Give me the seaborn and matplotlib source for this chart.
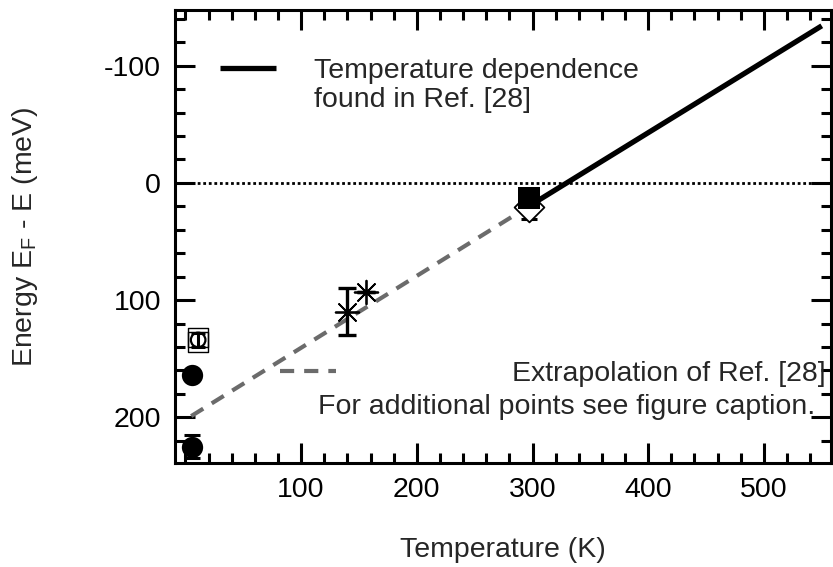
import matplotlib
matplotlib.use("Agg")
import matplotlib.pyplot as plt
import seaborn as sns
import pandas as pd
from matplotlib.lines import Line2D
from matplotlib.ticker import MultipleLocator

# ---- data ----
fit_T = [300, 550]            # temperature dependence found in Ref. [28]
fit_E = [18, -134]
extrap_T = [5, 300]           # extrapolation of Ref. [28]
extrap_E = [199, 18]

filled_circle_T = [6, 6]
filled_circle_E = [164, 225]
filled_circle_err = [0, 10]

open_square_T = [11, 11]
open_square_E = [132, 136]

open_circle_T = [11]
open_circle_E = [134]
open_circle_err = [6]

star_T = [140, 156]
star_E = [110, 93]
star_err = [20, 0]

filled_square_T = [297]
filled_square_E = [13]

diamond_T = [297]
diamond_E = [21]
diamond_err = [10]

x_ticks = [100, 200, 300, 400, 500]
y_ticks = [-100, 0, 100, 200]

sns.set_theme(style="ticks")
plt.rcParams['font.family'] = ['Liberation Sans', 'DejaVu Sans']
plt.rcParams['mathtext.fontset'] = 'custom'
plt.rcParams['mathtext.rm'] = 'Liberation Sans'
plt.rcParams['mathtext.it'] = 'Liberation Sans'
plt.rcParams['axes.unicode_minus'] = False

FS = 20.5
W, H = 833, 567
L, R, B, T = 175, 831, 463, 10
fig = plt.figure(figsize=(W / 100, H / 100), dpi=100)
ax = fig.add_axes([L / W, 1 - B / H, (R - L) / W, (B - T) / H])

def fx(px):
    return (px - L) / (R - L)

def fy(py):
    return (B - py) / (B - T)

# zero line
ax.axhline(0, color='black', lw=2.0, linestyle=(0, (1, 1.0)), zorder=1)

fit_df = pd.DataFrame({'T': fit_T, 'E': fit_E})
ext_df = pd.DataFrame({'T': extrap_T, 'E': extrap_E})
sns.lineplot(data=ext_df, x='T', y='E', ax=ax, color='#6b6b6b', lw=3.0,
             linestyle=(0, (3.4, 2.4)), zorder=2)
sns.lineplot(data=fit_df, x='T', y='E', ax=ax, color='black', lw=3.8,
             solid_capstyle='butt', zorder=3)

# error bars
ax.errorbar(filled_circle_T, filled_circle_E, yerr=filled_circle_err, fmt='none',
            ecolor='black', elinewidth=2.2, capsize=6, capthick=2.2, zorder=4)
ax.errorbar(open_circle_T, open_circle_E, yerr=open_circle_err, fmt='none',
            ecolor='black', elinewidth=2.2, capsize=5, capthick=2.2, zorder=5)
ax.errorbar(star_T, star_E, yerr=star_err, fmt='none',
            ecolor='black', elinewidth=2.4, capsize=6.5, capthick=2.4, zorder=4)
ax.errorbar(diamond_T, diamond_E, yerr=diamond_err, fmt='none',
            ecolor='black', elinewidth=2.2, capsize=6, capthick=2.2, zorder=4)

# markers
sns.scatterplot(x=filled_circle_T, y=filled_circle_E, ax=ax, marker='o', s=235,
                color='black', edgecolor='black', linewidth=0, zorder=6)
sns.scatterplot(x=open_square_T, y=open_square_E, ax=ax, marker='s', s=200,
                facecolor='none', edgecolor='black', linewidth=1.0, zorder=6)
sns.scatterplot(x=open_circle_T, y=open_circle_E, ax=ax, marker='o', s=110,
                facecolor='none', edgecolor='black', linewidth=1.6, zorder=6)
sns.scatterplot(x=star_T, y=star_E, ax=ax, marker=(8, 2, 0), s=290,
                color='black', edgecolor='black', linewidth=1.3, zorder=6)
sns.scatterplot(x=diamond_T, y=diamond_E, ax=ax, marker='D', s=230,
                facecolor='white', edgecolor='black', linewidth=1.3, zorder=5)
sns.scatterplot(x=filled_square_T, y=filled_square_E, ax=ax, marker='s', s=260,
                color='black', edgecolor='black', linewidth=0, zorder=6)

# axes
ax.set_xlim(-9, 558)
ax.set_ylim(239, -147.5)
ax.set_xticks(x_ticks)
ax.set_yticks(y_ticks)
ax.xaxis.set_minor_locator(MultipleLocator(20))
ax.yaxis.set_minor_locator(MultipleLocator(20))
ax.tick_params(which='both', direction='in', top=True, right=True, width=2.2,
               colors='black', labelsize=FS)
ax.tick_params(which='major', length=14.5)
ax.tick_params(which='minor', length=7.5)
ax.tick_params(axis='x', which='major', pad=10)
ax.tick_params(axis='y', which='major', pad=10)
for sp in ax.spines.values():
    sp.set_linewidth(2.2)
    sp.set_color('black')

ax.set_xlabel('Temperature (K)', fontsize=FS)
ax.set_ylabel('Energy E$_\\mathrm{F}$ - E (meV)', fontsize=FS)
ax.xaxis.set_label_coords(0.5, fy(550), transform=ax.transAxes)
ax.xaxis.label.set_va('center')
ax.yaxis.set_label_coords(fx(25), 0.5, transform=ax.transAxes)
ax.yaxis.label.set_va('center')
ax.yaxis.label.set_rotation_mode('anchor')

# legends
h1 = [Line2D([], [], color='black', lw=3.8, solid_capstyle='butt'),
      Line2D([], [], color='none', lw=0)]
leg1 = ax.legend(h1, ['Temperature dependence', 'found in Ref. [28]'],
                 loc='upper left', bbox_to_anchor=(fx(220), fy(58)),
                 frameon=False, fontsize=FS, handlelength=1.95,
                 handletextpad=1.35, labelspacing=0.12, borderaxespad=0,
                 borderpad=0)
ax.add_artist(leg1)
h2 = [Line2D([], [], color='#6b6b6b', lw=3.0, linestyle=(0, (3.4, 2.4)))]
ax.legend(h2, ['Extrapolation of Ref. [28]'], loc='center right',
          bbox_to_anchor=(fx(826), fy(374)), frameon=False, fontsize=FS,
          handlelength=1.95, handletextpad=6.2, borderaxespad=0, borderpad=0)
ax.text(fx(815), fy(407), 'For additional points see figure caption.',
        transform=ax.transAxes, ha='right', va='center', fontsize=FS)

fig.savefig('out.png', dpi=100)
